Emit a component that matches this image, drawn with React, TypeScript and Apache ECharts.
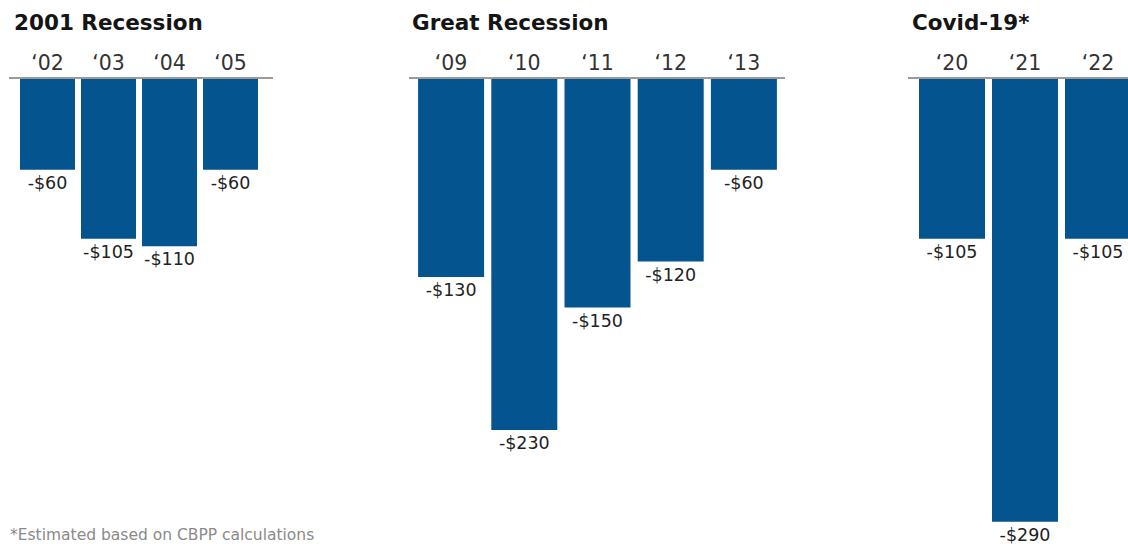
import React, { useEffect, useRef } from "react";
import * as echarts from "echarts";

const groupTitles = ["2001 Recession", "Great Recession", "Covid-19*"];
const cats2001 = ["‘02", "‘03", "‘04", "‘05"];
const vals2001 = [-60, -105, -110, -60];
const catsGreat = ["‘09", "‘10", "‘11", "‘12", "‘13"];
const valsGreat = [-130, -230, -150, -120, -60];
const catsCovid = ["‘20", "‘21", "‘22"];
const valsCovid = [-105, -290, -105];
const footnote = "*Estimated based on CBPP calculations";

const FONT = "'DejaVu Sans', 'Open Sans', sans-serif";
const BLUE = "#03548f";

export default function App() {
  const ref = useRef<HTMLDivElement>(null);
  useEffect(() => {
    if (!ref.current) return;
    const chart = echarts.init(ref.current, null, { renderer: "svg" });
    const groups = [
      { cats: cats2001, vals: vals2001, left: 17, width: 244, barWidth: 55 },
      { cats: catsGreat, vals: valsGreat, left: 414.5, width: 366, barWidth: 66 },
      { cats: catsCovid, vals: valsCovid, left: 915.5, width: 219, barWidth: 66 },
    ];
    const titleLefts = [14, 412, 912];
    const lines = [
      [9, 273],
      [409, 785],
      [908, 1140],
    ];
    chart.setOption({
      animation: false,
      title: [
        ...groupTitles.map((t, i) => ({
          text: t,
          left: titleLefts[i],
          top: 11,
          padding: 0,
          textStyle: { fontFamily: FONT, fontSize: 21.5, fontWeight: 700, color: "#151515" },
        })),
        {
          text: footnote,
          left: 10,
          top: 527,
          padding: 0,
          textStyle: { fontFamily: FONT, fontSize: 15.5, fontWeight: 400, color: "#8a8a8a" },
        },
      ],
      grid: groups.map((g) => ({ left: g.left, width: g.width, top: 78, height: 459 })),
      xAxis: groups.map((g, i) => ({
        type: "category",
        gridIndex: i,
        position: "top",
        data: g.cats,
        axisLine: { show: false },
        axisTick: { show: false },
        axisLabel: { fontFamily: FONT, fontSize: 20.5, color: "#333", margin: 5 },
      })),
      yAxis: groups.map((g, i) => ({
        type: "value",
        gridIndex: i,
        min: -300,
        max: 0,
        show: false,
      })),
      series: groups.map((g, i) => ({
        type: "bar",
        xAxisIndex: i,
        yAxisIndex: i,
        data: g.vals,
        barWidth: g.barWidth,
        itemStyle: { color: BLUE },
        label: {
          show: true,
          position: "bottom",
          distance: 4,
          fontFamily: FONT,
          fontSize: 17.5,
          color: "#222",
          formatter: (p: any) => "-$" + Math.abs(p.value),
        },
      })),
      graphic: lines.map((l) => ({
        type: "line",
        shape: { x1: l[0], y1: 78, x2: l[1], y2: 78 },
        style: { stroke: "#9a9a9a", lineWidth: 2 },
        z: 10,
      })),
    });
    return () => chart.dispose();
  }, []);
  return (
    <div
      ref={ref}
      style={{ position: "fixed", left: 0, top: 0, width: 1140, height: 544, background: "#fff" }}
    />
  );
}
